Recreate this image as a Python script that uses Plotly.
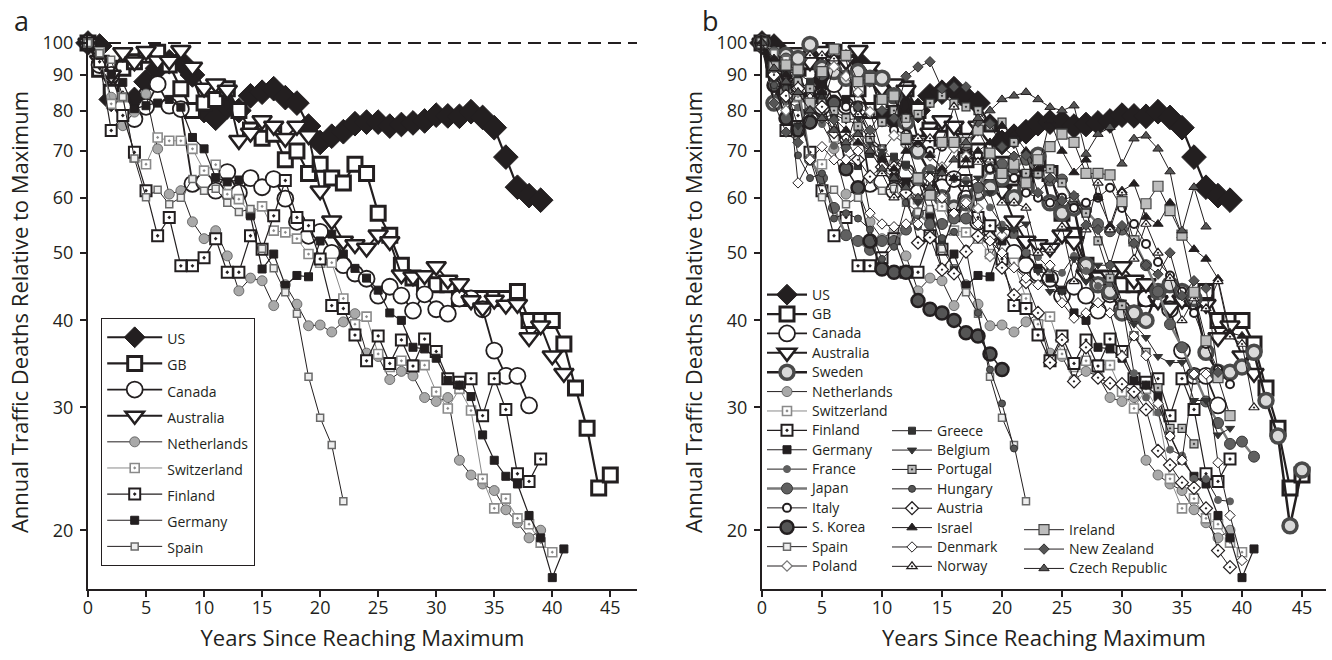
import plotly.graph_objects as go

# ---------------- data ----------------
X_TICKS = [0, 5, 10, 15, 20, 25, 30, 35, 40, 45]
Y_TICKS = [20, 30, 40, 50, 60, 70, 80, 90, 100]
Y_TICK_LABELS = ["20", "30", "40", "50", "60", "70", "80", "90", "100"]
REFERENCE = 100

US = [100, 99, 83, 82, 83, 88, 92, 94, 94, 90, 80, 78, 81, 80, 84, 85, 86, 83.5, 82, 76,
      72, 73.5, 74.6, 76.6, 77, 77, 76, 76.4, 76.8, 77.3, 78.8, 78.6, 78.5, 79.7, 78.2, 75.6,
      68.6, 62.1, 60.4, 59.5]
GB = [100, 91.7, 85, 92, 94, 96, 97, 93, 86, 80, 82, 83, 86, 80, 75, 73, 74, 68, 70, 65,
      67, 64, 63, 67, 65, 57, 53, 48, 46, 45, 45, 45, 43, 43, 43, 43, 43, 44, 40, 40,
      40, 37, 32, 28, 23, 24]
CANADA = [100, 93, 90, 81, 77.8, 81, 87.3, 81.3, 80.4, 62.8, 63.2, 61.4, 65.3, 61, 64, 62.1,
          63.8, 59.8, 55.4, 52.9, 53.6, 50, 48, 46.7, 45.9, 43.4, 44.7, 43.4, 41.3, 43.6,
          41.5, 40.9, 43, 43, 41.5, 36.2, 33.3, 33.3, 30.2]
AUSTRALIA = [100, 94.5, 90, 96.9, 94, 97.3, 94.3, 94.2, 97.6, 92.4, 86.2, 87.4, 85.6, 72.5,
             74.3, 77.4, 76, 73, 76, 73.7, 61.4, 55.6, 52, 51.4, 50.8, 53.1, 51.9, 46.5, 46.2,
             46.4, 47.8, 45.7, 45.2, 42.7, 41.7, 42.8, 42.1, 42.2, 37.8, 39.3, 35.6, 33.6]
NETHERLANDS = [100, 95, 83.6, 76.1, 79.6, 84.5, 70.5, 60.7, 61.4, 55.4, 52.4, 53.8, 49.5, 44.1,
               46, 45.6, 42, 45, 42.2, 39.3, 39.4, 38.5, 39.8, 40.9, 35.9, 35.5, 32.9, 33.8,
               33.3, 31, 30.6, 31, 25.2, 24, 23.3, 22.8, 21.4, 20.5, 19.5, 20]
SWITZERLAND = [100, 97, 81.8, 83.6, 68.5, 67, 73.2, 72.4, 72.4, 70.5, 65.6, 66.9, 60.7, 59.7,
               57, 58.3, 53.8, 53.5, 52.4, 49.8, 48.4, 48.4, 43, 39.5, 40.5, 35.8, 34.3, 35,
               34.6, 34.5, 31.6, 29.9, 31.9, 29.7, 23.7, 21.5, 22.2, 20.8, 20.4, 19.2, 18.6]
FINLAND = [100, 94, 74.9, 78.7, 69.7, 61.4, 52.9, 56.2, 47.9, 47.9, 49.2, 52.4, 46.9, 46.9,
           52.9, 50.6, 56.5, 63.5, 56.2, 54.7, 49, 42, 41.6, 38.1, 35, 38, 34.7, 37.5, 34.4,
           37.6, 36.1, 33, 32.6, 33, 29.2, 33, 29.8, 24.1, 23.5, 25.3]
GERMANY = [100, 96, 90, 87.8, 80.5, 81.3, 82, 83, 80.9, 73.2, 70.5, 64.1, 63.2, 63.6, 56.5,
           47.4, 49.8, 44.9, 46.4, 46.2, 52, 53.2, 49.8, 47.5, 46, 44.2, 41, 40, 36.6, 36.4,
           35.3, 32.8, 32.3, 31.1, 27.4, 25.2, 23.9, 23.3, 21, 19.5, 17.1, 18.8]
SPAIN = [100, 96.7, 94.6, 83.7, 68.3, 60.1, 61.6, 58.7, 60, 63.8, 61.4, 61.8, 59, 57.2, 57.8,
         50.7, 47.5, 43.9, 40.9, 33.2, 29, 26.5, 22]
SWEDEN = [100, 82, 96, 95, 99.5, 92, 91, 89, 91, 89, 89, 84, 77, 70, 65, 60, 58, 59, 61, 62,
          64, 60, 62, 69, 59, 57, 58, 48, 45, 44, 41, 41, 40, 44, 45, 44, 43, 36, 33.7, 33.7,
          34.3, 36, 30.7, 27.3, 20.3, 24.4]
FRANCE = [100, 94.6, 82.5, 80.8, 79.5, 76.5, 71.2, 72.6, 74.9, 71.6, 70.6, 67.8, 66.4, 63.1,
          66.2, 59.6, 63.8, 63.6, 62.2, 58.1, 54.9, 53.1, 50, 49.3, 47.4, 46.8, 49.5, 47.1,
          44.8, 45.2, 42.4, 33.6, 31, 29.5, 26.1, 25.6, 23.7, 23.7, 22.1, 22]
JAPAN = [100, 97, 95, 87, 68, 64, 58, 53, 52, 50.5, 52, 52, 54, 57, 55, 55, 56, 56, 62, 66,
         67, 66, 68, 65, 63.5, 63.7, 59, 57.5, 55, 53.7, 54, 52, 48, 44, 39.5, 36.6, 33.5,
         30.6, 28.5, 26.6, 26.8, 25.5]
ITALY = [100, 94, 90, 86, 84, 82, 83, 81, 81, 79, 77, 75, 74, 72, 70, 71, 72, 71, 69, 66,
         65, 64, 61, 60, 59, 60, 58, 59, 60, 62, 58, 55, 51.5, 48.5, 46.4, 44, 41, 37, 34, 32.4]
S_KOREA = [100, 87, 78, 75, 77, 90, 82, 66, 62, 52, 47.4, 46.9, 46.9, 42.7, 41.5, 41, 40,
           38.4, 38, 35.8, 34]
POLAND = [100, 88, 80, 85, 87, 80.5, 92.5, 89.6, 85, 79.7, 70, 73.7, 71.4, 72.3, 68.9, 66.4,
          70.7, 68.8, 57.9, 49.4, 53]
GREECE = [100, 89, 91, 90.5, 88, 84.5, 78, 67.8, 66.6, 69.3, 68.8, 68.7, 66.9, 64.4, 60.4,
          52.2, 47.3]
BELGIUM = [100, 94, 86, 76, 81, 78, 79, 77.5, 78, 72, 70, 64, 62, 59, 65, 65, 64, 63, 64, 61,
           54, 54, 55, 47, 44, 44, 49, 45.5, 48, 48, 42.5, 39.5, 37.8, 35.5, 34.8, 34.8, 30.7,
           30.7, 27.4, 28]
PORTUGAL = [100, 90, 85, 88, 86, 82, 80, 78, 76, 73, 77, 80, 78, 79, 82, 84, 82, 81, 80, 76,
            77, 72, 65, 65, 66, 63, 60, 57, 52, 46, 42, 38, 36, 32, 28, 28, 26.6]
HUNGARY = [100, 87, 86, 69, 64, 65, 56, 57, 56, 54, 49, 51, 59, 54.5, 53, 52.5, 53.6, 50.7,
           41, 34, 30.4, 26.2]
AUSTRIA = [100, 90, 84, 86, 83, 81, 74.5, 72.6, 68, 64.3, 66.4, 66.3, 61, 51.7, 52.6, 47.3,
           46.7, 50.2, 52.8, 52.6, 47.6, 43.5, 45.4, 41, 34.8, 37.5, 32.7, 36.6, 33.1, 32.5,
           32.4, 31.6, 29.8, 26, 24.8, 23.4, 23, 21.5, 18.7, 17.7]
ISRAEL = [100, 95, 90, 85, 80, 85, 78, 75, 72, 70, 68, 66, 70, 72, 69, 66, 64, 68, 70, 72,
          76, 74, 70, 66, 77.4, 70, 65.2, 68, 60, 54.7, 61.4, 62.8, 56.3, 55, 59, 53, 50.6,
          49, 45.9, 38.4, 38]
DENMARK = [100, 92, 93, 63, 68, 71, 68, 68, 70, 57, 55, 54.5, 55, 55, 64, 60, 57, 59, 55, 52,
           50, 47.6, 46, 45, 48, 42.4, 40.3, 41, 42.4, 41, 35.5, 38, 35.6, 30.4, 27.3, 25.2,
           33.5, 33.5, 25, 21, 18.1]
NORWAY = [100, 93, 92, 91, 96, 96, 95, 95, 79, 74, 65, 60, 72, 73, 73, 72, 81, 71, 67.5, 68,
          59, 59, 58, 50, 50.5, 54.5, 45.5, 54, 63, 54, 61, 49, 55, 50, 46, 40, 43, 41.6, 45.5,
          37.9, 37, 30]
IRELAND = [100, 92.5, 93, 91.5, 82, 91, 98, 96, 88, 89, 83, 84, 73, 64, 60.5, 72, 72, 72, 75,
           69.5, 65, 67, 63, 68, 71, 74, 72, 65, 65, 64.7, 59.2, 52, 58.8, 62.3, 57.5, 53,
           43.9, 37.4, 33.1, 29.2]
NEW_ZEALAND = [100, 82, 74.5, 72, 80, 78, 77.6, 70.8, 81, 75, 80, 78, 89.6, 92.4, 94, 86,
               86.5, 86.5, 77, 76.6, 71, 68.8, 69, 61, 64, 59.4, 60.4, 54.8, 54, 48, 54.7,
               51.6, 48, 46.6, 50, 43.4, 45.6, 44.5, 33.7]
CZECH = [100, 92, 88, 85, 80, 78, 75, 72, 74, 70, 66, 64, 62, 60, 62, 65, 68, 72, 78, 80,
         83, 84, 85, 83, 80.9, 80, 81.3, 69.3, 74, 75.7, 67.1, 72.9, 73.6, 70.5, 65.4, 53.8,
         62.1, 54.5]

SERIES = {
    "US": US, "GB": GB, "Canada": CANADA, "Australia": AUSTRALIA,
    "Sweden": SWEDEN, "Netherlands": NETHERLANDS, "Switzerland": SWITZERLAND,
    "Finland": FINLAND, "Germany": GERMANY, "France": FRANCE, "Japan": JAPAN,
    "Italy": ITALY, "S. Korea": S_KOREA, "Spain": SPAIN, "Poland": POLAND,
    "Greece": GREECE, "Belgium": BELGIUM, "Portugal": PORTUGAL, "Hungary": HUNGARY,
    "Austria": AUSTRIA, "Israel": ISRAEL, "Denmark": DENMARK, "Norway": NORWAY,
    "Ireland": IRELAND, "New Zealand": NEW_ZEALAND, "Czech Republic": CZECH,
}

PANEL_A = ["US", "GB", "Canada", "Australia", "Netherlands", "Switzerland",
           "Finland", "Germany", "Spain"]
LEGEND_B1 = ["US", "GB", "Canada", "Australia", "Sweden", "Netherlands", "Switzerland",
             "Finland", "Germany", "France", "Japan", "Italy", "S. Korea", "Spain", "Poland"]
LEGEND_B2 = ["Greece", "Belgium", "Portugal", "Hungary", "Austria", "Israel",
             "Denmark", "Norway"]
LEGEND_B3 = ["Ireland", "New Zealand", "Czech Republic"]

# ---------------- styles ----------------
INK = "#231f20"
STYLE = {
    "US": dict(symbol="diamond", size=19, color=INK, lc=INK, lw=1, line=2.2, linec=INK),
    "GB": dict(symbol="square", size=14, color="white", lc=INK, lw=3, line=2.2, linec=INK),
    "Canada": dict(symbol="circle", size=16, color="white", lc=INK, lw=1.8, line=1.8, linec=INK),
    "Australia": dict(symbol="triangle-down", size=17, color="white", lc=INK, lw=2.5, line=2, linec=INK),
    "Sweden": dict(symbol="circle", size=14, color="#d9d9d9", lc="#4a4a4a", lw=3.5, line=2.5, linec=INK),
    "Netherlands": dict(symbol="circle", size=10, color="#a9a9a9", lc="#555", lw=0.8, line=1, linec=INK),
    "Switzerland": dict(symbol="square-dot", size=9, color="white", lc="#8a8a8a", lw=1.6, line=1, linec="#8a8a8a"),
    "Finland": dict(symbol="square-dot", size=11, color="white", lc=INK, lw=2, line=1.2, linec=INK),
    "Germany": dict(symbol="square", size=8, color=INK, lc=INK, lw=1, line=1.2, linec=INK),
    "France": dict(symbol="circle", size=7, color="#5f5f5f", lc="#5f5f5f", lw=1, line=1, linec=INK),
    "Japan": dict(symbol="circle", size=11, color="#606060", lc="#3a3a3a", lw=1, line=2.5, linec="#7a7a7a"),
    "Italy": dict(symbol="circle", size=8, color="white", lc=INK, lw=2, line=1, linec=INK),
    "S. Korea": dict(symbol="circle", size=13, color="#555", lc=INK, lw=2.5, line=1.5, linec=INK),
    "Spain": dict(symbol="square", size=7, color="#eeeeee", lc="#6a6a6a", lw=1.5, line=1, linec=INK),
    "Poland": dict(symbol="diamond", size=8, color="white", lc="#777", lw=1.2, line=1, linec=INK),
    "Greece": dict(symbol="square", size=7, color="#333", lc="#333", lw=1, line=1, linec=INK),
    "Belgium": dict(symbol="triangle-down", size=8, color="#333", lc="#333", lw=1, line=1, linec=INK),
    "Portugal": dict(symbol="square-dot", size=8, color="#bbb", lc="#333", lw=1.2, line=1, linec=INK),
    "Hungary": dict(symbol="circle", size=7, color="#555", lc="#333", lw=1, line=1, linec=INK),
    "Austria": dict(symbol="diamond-dot", size=10, color="white", lc=INK, lw=1.2, line=1, linec=INK),
    "Israel": dict(symbol="triangle-up", size=9, color=INK, lc=INK, lw=1, line=1, linec=INK),
    "Denmark": dict(symbol="diamond", size=8, color="white", lc=INK, lw=1, line=1, linec=INK),
    "Norway": dict(symbol="triangle-up-dot", size=9, color="white", lc=INK, lw=1.2, line=1, linec=INK),
    "Ireland": dict(symbol="square", size=10, color="#bdbdbd", lc="#444", lw=1.2, line=1, linec=INK),
    "New Zealand": dict(symbol="diamond", size=8, color="#555", lc="#333", lw=1, line=1, linec=INK),
    "Czech Republic": dict(symbol="triangle-up", size=9, color="#555", lc=INK, lw=1, line=1, linec=INK),
}

FONT = "Open Sans, Lato, sans-serif"
X_RANGE_A = [0, 47.3]
X_RANGE_B = [0, 47.0]
Y_RANGE = [1.2167, 2.0115]

MARGIN_T, MARGIN_B, MARGIN_L, MARGIN_R = 35, 71, 88, 6
PLOT_H = 660 - MARGIN_T - MARGIN_B
PLOT_W = 1332 - MARGIN_L - MARGIN_R


def px_x(p):
    return (p - MARGIN_L) / PLOT_W


def px_y(p):
    return (660 - MARGIN_B - p) / PLOT_H


def label(name):
    return '<span style="font-size:14px">' + name + '</span>'


def make_trace(name, xa, ya, legend):
    st = STYLE[name]
    vals = SERIES[name]
    return go.Scatter(
        x=list(range(len(vals))), y=vals, name=label(name),
        mode="lines+markers", xaxis=xa, yaxis=ya, legend=legend,
        cliponaxis=False,
        line=dict(color=st["linec"], width=st["line"]),
        marker=dict(symbol=st["symbol"], size=st["size"], color=st["color"],
                    line=dict(color=st["lc"], width=st["lw"])),
    )


fig = go.Figure()

# dashed reference lines at the maximum
fig.add_trace(go.Scatter(x=X_RANGE_A, y=[REFERENCE, REFERENCE], mode="lines",
                         xaxis="x", yaxis="y", showlegend=False, hoverinfo="skip",
                         line=dict(color=INK, width=2, dash="13px,7px")))
fig.add_trace(go.Scatter(x=X_RANGE_B, y=[REFERENCE, REFERENCE], mode="lines",
                         xaxis="x2", yaxis="y2", showlegend=False, hoverinfo="skip",
                         line=dict(color=INK, width=2, dash="13px,7px")))

for n in PANEL_A:
    fig.add_trace(make_trace(n, "x", "y", "legend"))
for n in LEGEND_B1:
    fig.add_trace(make_trace(n, "x2", "y2", "legend2"))
for n in LEGEND_B2:
    fig.add_trace(make_trace(n, "x2", "y2", "legend3"))
for n in LEGEND_B3:
    fig.add_trace(make_trace(n, "x2", "y2", "legend4"))

xaxis_common = dict(
    tickvals=X_TICKS, ticks="outside", ticklen=6, tickwidth=2, tickcolor=INK,
    showline=True, linewidth=2, linecolor=INK, showgrid=False, zeroline=False,
    tickfont=dict(size=18, color=INK, family=FONT), ticklabelstandoff=-5,
    title=dict(text="Years Since Reaching Maximum", standoff=13,
               font=dict(size=22, color=INK, family=FONT)),
)
yaxis_common = dict(
    type="log", range=Y_RANGE, tickvals=Y_TICKS, ticktext=Y_TICK_LABELS,
    ticks="outside", ticklen=6, tickwidth=2, tickcolor=INK,
    showline=True, linewidth=2, linecolor=INK, showgrid=False, zeroline=False,
    tickfont=dict(size=18, color=INK, family=FONT), ticklabelstandoff=3,
    title=dict(text="Annual Traffic Deaths Relative to Maximum", standoff=8,
               font=dict(size=22, color=INK, family=FONT)),
)

legend_common = dict(traceorder="normal", itemsizing="trace",
                     xanchor="left", yanchor="top")

fig.update_layout(
    width=1332, height=660,
    margin=dict(l=MARGIN_L, r=MARGIN_R, t=MARGIN_T, b=MARGIN_B),
    paper_bgcolor="white", plot_bgcolor="rgba(0,0,0,0)",
    font=dict(family=FONT, color=INK),
    showlegend=True,
    xaxis=dict(domain=[0, px_x(637)], range=X_RANGE_A, anchor="y", **xaxis_common),
    yaxis=dict(domain=[0, 1], anchor="x", **yaxis_common),
    xaxis2=dict(domain=[px_x(762), 1.0], range=X_RANGE_B, anchor="y2", **xaxis_common),
    yaxis2=dict(domain=[0, 1], anchor="x2", **yaxis_common),
    legend=dict(x=px_x(101), y=px_y(318), bgcolor="white", bordercolor=INK, borderwidth=1.2,
                itemwidth=55, font=dict(size=17.8, color=INK, family=FONT), **legend_common),
    legend2=dict(x=px_x(762), y=px_y(280), bgcolor="rgba(0,0,0,0)", borderwidth=0,
                 itemwidth=40, font=dict(size=12.6, color=INK, family=FONT), **legend_common),
    legend3=dict(x=px_x(887), y=px_y(416), bgcolor="rgba(0,0,0,0)", borderwidth=0,
                 itemwidth=40, font=dict(size=12.6, color=INK, family=FONT), **legend_common),
    legend4=dict(x=px_x(1019), y=px_y(515), bgcolor="rgba(0,0,0,0)", borderwidth=0,
                 itemwidth=40, font=dict(size=12.6, color=INK, family=FONT), **legend_common),
    annotations=[
        dict(text="a", xref="paper", yref="paper", x=px_x(21), y=px_y(0), showarrow=False,
             xanchor="center", yanchor="top", font=dict(size=27, color=INK, family=FONT)),
        dict(text="b", xref="paper", yref="paper", x=px_x(710), y=px_y(0), showarrow=False,
             xanchor="center", yanchor="top", font=dict(size=27, color=INK, family=FONT)),
    ],
    hovermode=False,
)

fig.write_html("out.html", config={"displayModeBar": False},
               post_script="document.body.style.margin='0';")
